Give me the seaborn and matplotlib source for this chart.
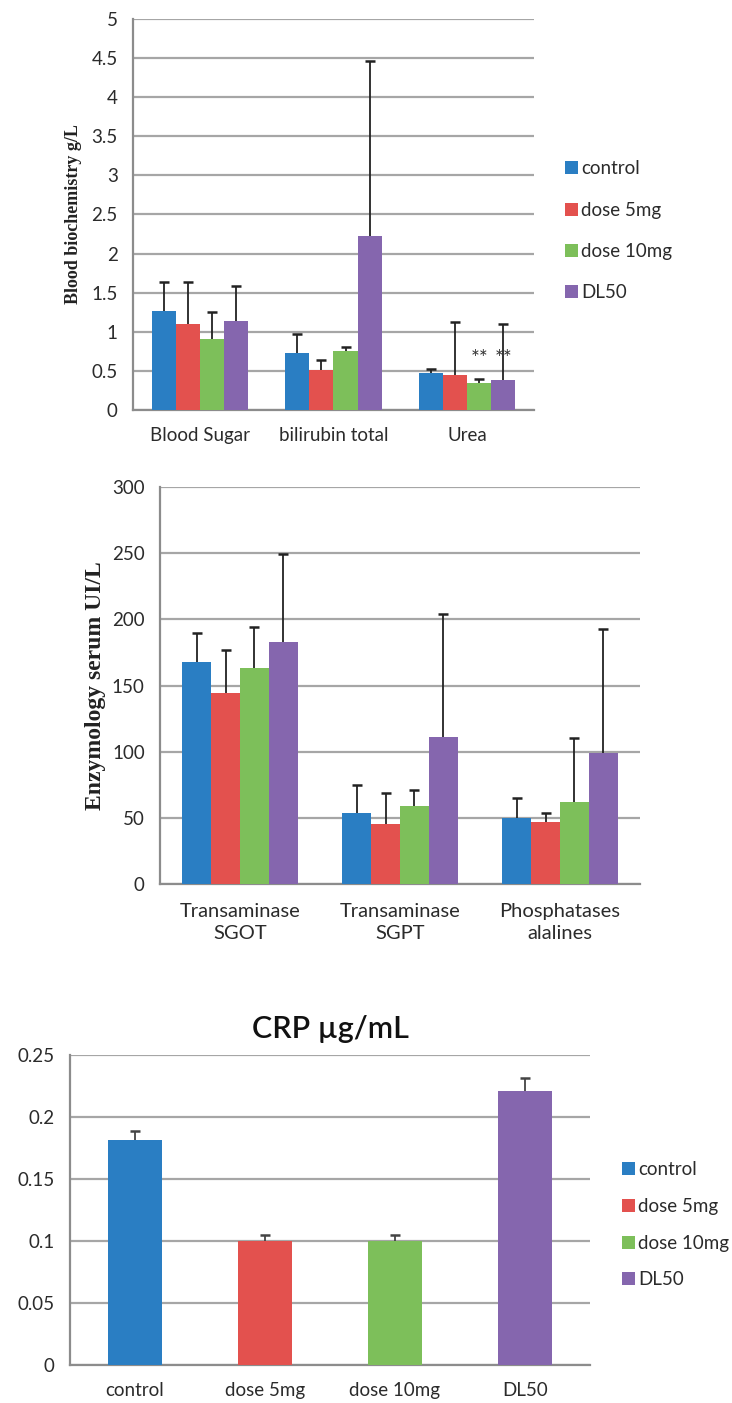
import numpy as np
import pandas as pd
import seaborn as sns
import matplotlib.pyplot as plt
from matplotlib.ticker import FuncFormatter

# groups and colours
groups = ["control", "dose 5mg", "dose 10mg", "DL50"]
colors = ["#2a7ec3", "#e3514e", "#7dbf5a", "#8566ae"]

# blood biochemistry (g/L)
bio_params = ["Blood Sugar", "bilirubin total", "Urea"]
bio_control = [1.26, 0.73, 0.47]
bio_dose5 = [1.10, 0.51, 0.45]
bio_dose10 = [0.91, 0.76, 0.35]
bio_dl50 = [1.14, 2.23, 0.38]
bio_sd_control = [0.38, 0.24, 0.05]
bio_sd_dose5 = [0.53, 0.13, 0.67]
bio_sd_dose10 = [0.34, 0.05, 0.04]
bio_sd_dl50 = [0.44, 2.23, 0.72]

# enzymology serum (UI/L)
enz_params = ["Transaminase\nSGOT", "Transaminase\nSGPT", "Phosphatases\nalalines"]
enz_control = [168, 54, 50]
enz_dose5 = [144, 45, 46.5]
enz_dose10 = [163.5, 59, 62]
enz_dl50 = [183, 111, 99]
enz_sd_control = [22, 21, 15]
enz_sd_dose5 = [32.5, 24, 7]
enz_sd_dose10 = [30.5, 12, 48.5]
enz_sd_dl50 = [66, 93, 94]

# CRP (µg/mL)
crp_values = [0.181, 0.100, 0.100, 0.221]
crp_sd = [0.008, 0.005, 0.005, 0.010]


def long_frame(params, series):
    rows = []
    for g, vals in zip(groups, series):
        for p, v in zip(params, vals):
            rows.append({"param": p, "group": g, "value": v})
    return pd.DataFrame(rows)


def upper_error(ax, bar, e, color="#222222"):
    x = bar.get_x() + bar.get_width() / 2
    _, caps, _ = ax.errorbar(x, bar.get_height(), yerr=[[0], [e]], fmt="none",
                             ecolor=color, elinewidth=1.3, capsize=3.5,
                             capthick=1.8, zorder=4)
    caps[0].set_visible(False)  # no cap at the bar top


def add_errors(ax, sds):
    # one container per hue level, bars in category order
    for cont, sd in zip(ax.containers, sds):
        for bar, e in zip(cont, sd):
            upper_error(ax, bar, e)


def excel_axes(ax, ncat):
    ax.set_xlim(-0.5, ncat - 0.5)
    ax.grid(axis="y", color="#a6a6a6", lw=1.6, zorder=0)
    ax.set_axisbelow(True)
    for s in ["top", "right"]:
        ax.spines[s].set_visible(False)
    for s in ["left", "bottom"]:
        ax.spines[s].set_color("#8c8c8c")
        ax.spines[s].set_linewidth(1.6)
    ax.set_xticks(np.arange(-0.5, ncat), minor=False)
    ax.set_xticks(np.arange(ncat), minor=True)
    ax.tick_params(axis="x", which="major", length=5, color="#8c8c8c",
                   width=1.3, labelbottom=False)
    ax.tick_params(axis="x", which="minor", length=0, pad=12)
    ax.tick_params(axis="y", length=5, color="#8c8c8c", width=1.3, pad=6)
    ax.set_xlabel("")


sns.set_style("white")
plt.rcParams["font.family"] = ["Lato", "DejaVu Sans"]
plt.rcParams["text.color"] = "#2b2b2b"
plt.rcParams["xtick.color"] = "#2b2b2b"
plt.rcParams["ytick.color"] = "#2b2b2b"

fig = plt.figure(figsize=(7.32, 14.03), dpi=100)
fmt = FuncFormatter(lambda v, p: "%g" % v)
leg_kw = dict(frameon=False, title=None, fontsize=13.5, handlelength=0.7,
              handleheight=0.7, handletextpad=0.15, borderpad=0,
              borderaxespad=0)

# ---- chart 1: blood biochemistry
ax1 = fig.add_axes([0.1817, 0.7078, 0.5478, 0.2787])
df1 = long_frame(bio_params, [bio_control, bio_dose5, bio_dose10, bio_dl50])
sns.barplot(data=df1, x="param", y="value", hue="group", hue_order=groups,
            palette=colors, width=0.72, errorbar=None, saturation=1,
            linewidth=0, ax=ax1, zorder=3)
add_errors(ax1, [bio_sd_control, bio_sd_dose5, bio_sd_dose10, bio_sd_dl50])
excel_axes(ax1, len(bio_params))
ax1.set_xticks(np.arange(len(bio_params)), bio_params, minor=True, fontsize=13.5)
ax1.set_ylim(0, 5)
ax1.set_yticks(np.arange(0, 5.01, 0.5))
ax1.yaxis.set_major_formatter(fmt)
ax1.tick_params(axis="y", labelsize=13.5)
ax1.set_ylabel("Blood biochemistry g/L", family="Liberation Serif",
               weight="bold", fontsize=13, color="#222222")
ax1.yaxis.set_label_coords(-0.127, 0.5)
# significance marks on urea
for b in [ax1.containers[2][2], ax1.containers[3][2]]:
    ax1.text(b.get_x() + b.get_width() / 2, 0.65, "**", ha="center",
             va="center", fontsize=15, color="#333333", zorder=5)
sns.move_legend(ax1, "center left", bbox_to_anchor=(0.772, 0.8354),
                bbox_transform=fig.transFigure, labelspacing=1.3, **leg_kw)

# ---- chart 2: enzymology
ax2 = fig.add_axes([0.2186, 0.3699, 0.6557, 0.283])
df2 = long_frame(enz_params, [enz_control, enz_dose5, enz_dose10, enz_dl50])
sns.barplot(data=df2, x="param", y="value", hue="group", hue_order=groups,
            palette=colors, width=0.72, errorbar=None, saturation=1,
            linewidth=0, ax=ax2, legend=False, zorder=3)
add_errors(ax2, [enz_sd_control, enz_sd_dose5, enz_sd_dose10, enz_sd_dl50])
excel_axes(ax2, len(enz_params))
ax2.set_xticks(np.arange(len(enz_params)), enz_params, minor=True,
               fontsize=14.5, linespacing=1.35)
ax2.tick_params(axis="x", which="minor", pad=14)
ax2.set_ylim(0, 300)
ax2.set_yticks(np.arange(0, 301, 50))
ax2.tick_params(axis="y", labelsize=13.5)
ax2.set_ylabel("Enzymology serum UI/L", family="Liberation Serif",
               weight="bold", fontsize=17, color="#222222")
ax2.yaxis.set_label_coords(-0.112, 0.5)

# ---- chart 3: CRP
ax3 = fig.add_axes([0.0956, 0.0271, 0.7104, 0.221])
df3 = pd.DataFrame({"group": groups, "value": crp_values})
sns.barplot(data=df3, x="group", y="value", hue="group", hue_order=groups,
            palette=colors, width=0.41, dodge=False, errorbar=None,
            saturation=1, linewidth=0, ax=ax3, zorder=3, legend=True)
crp_bars = [b for cont in ax3.containers for b in cont if b.get_height() > 0]
crp_bars.sort(key=lambda b: b.get_x())
for bar, e in zip(crp_bars, crp_sd):
    upper_error(ax3, bar, e, color="#444444")
excel_axes(ax3, len(groups))
ax3.set_xticks(np.arange(len(groups)), groups, minor=True, fontsize=13.5)
ax3.set_ylim(0, 0.25)
ax3.set_yticks(np.arange(0, 0.251, 0.05))
ax3.yaxis.set_major_formatter(fmt)
ax3.tick_params(axis="y", labelsize=13.5)
ax3.set_ylabel("")
ax3.set_title("CRP µg/mL", fontsize=22, weight="semibold", pad=12,
              color="#111111")
sns.move_legend(ax3, "center left", bbox_to_anchor=(0.85, 0.1269),
                bbox_transform=fig.transFigure, labelspacing=1.05, **leg_kw)

fig.savefig("out.png", dpi=100)
